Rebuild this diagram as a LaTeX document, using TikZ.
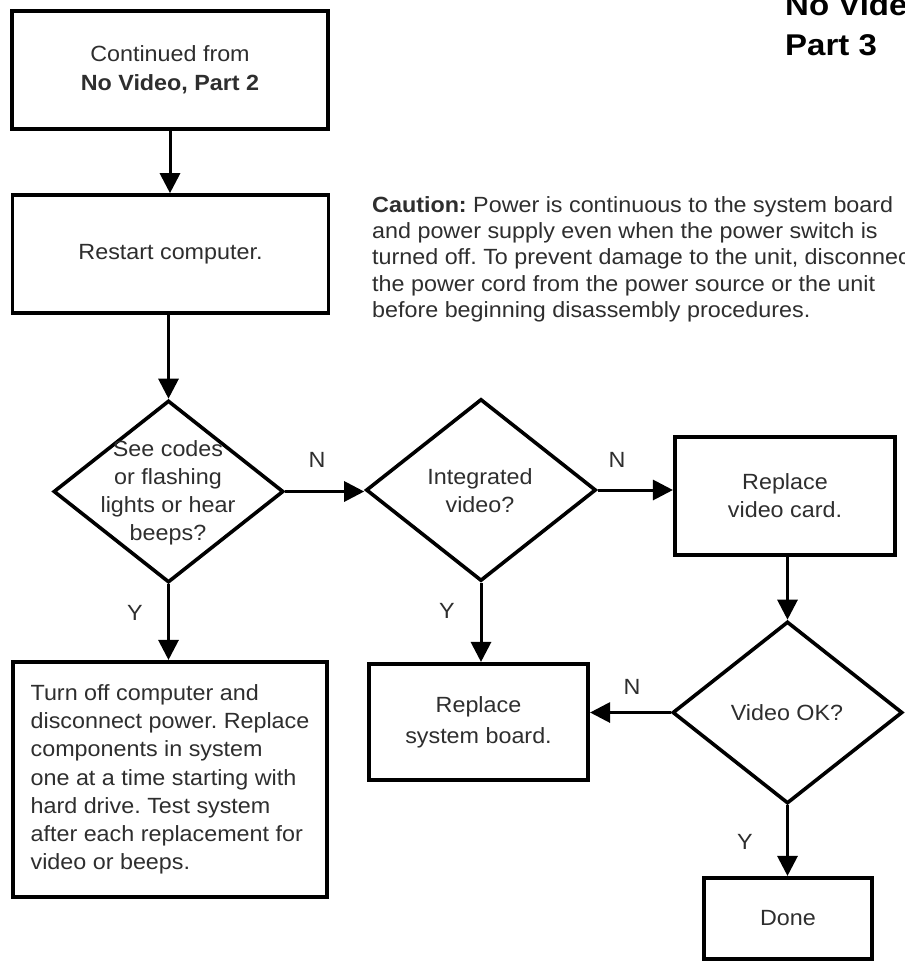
\documentclass[tikz,border=0pt]{standalone}
\usepackage{fontspec}
\setmainfont{Liberation Sans}[FakeStretch=1.06]
\newfontfamily\titlefont{Liberation Sans Bold}[FakeStretch=1.1]
\usetikzlibrary{shapes.geometric,arrows.meta}
\frenchspacing
\tikzset{
  txt/.style={font=\fontsize{22}{28}\selectfont, text=black!82},
  box/.style={txt, draw=black, rectangle, line width=3.6pt, inner sep=0pt, align=center},
  dia/.style={draw=black, diamond, line width=3.6pt, inner sep=0pt, minimum width=230pt, minimum height=182pt},
  arr/.style={line width=3pt, -{Triangle[width=20pt,length=20pt]}},
  lbl/.style={txt, inner sep=0pt}
}
\begin{document}
\begin{tikzpicture}[x=1pt,y=-1pt]
\useasboundingbox (0,0) rectangle (905,962);
\fill[white] (0,0) rectangle (905,962);

% title
\node[anchor=base west, inner sep=0pt, font=\titlefont\fontsize{30}{40}\selectfont] (t1) at (785,15) {No Video};
\node[anchor=base west, inner sep=0pt, font=\titlefont\fontsize{30}{40}\selectfont] (t2) at (785,55) {Part 3};

% boxes
\node[box, minimum width=316.5pt, minimum height=118.5pt, font=\fontsize{22}{29}\selectfont] (b1) at (170,70) {Continued from\\\textbf{No Video, Part 2}};
\node[box, minimum width=316pt, minimum height=118pt] (b2) at (170.5,254) {Restart computer.};
\node[box, minimum width=220.5pt, minimum height=118.5pt] (b3) at (785,496) {Replace\\video card.};
\node[box, minimum width=219.5pt, minimum height=116.5pt, font=\fontsize{22}{31}\selectfont] (b4) at (478.5,722) {Replace\\system board.};
\node[box, minimum width=314.5pt, minimum height=235.5pt, align=left, font=\fontsize{22}{28.2}\selectfont] (b5) at (170,779.5) {Turn off computer and\\disconnect power. Replace\\components in system\\one at a time starting with\\hard drive. Test system\\after each replacement for\\video or beeps.};
\node[box, minimum width=168.5pt, minimum height=81.5pt] (b6) at (788,918.5) {Done};

% diamonds
\node[dia] (d1) at (168.5,491.5) {};
\node[dia] (d2) at (481,490) {};
\node[dia] (d3) at (787.5,712.5) {};
\node[txt, align=center, inner sep=0pt] (d1t) at (168,493) {See codes\\or flashing\\lights or hear\\beeps?};
\node[txt, align=center, inner sep=0pt] (d2t) at (480,491) {Integrated\\video?};
\node[txt, anchor=base, inner sep=0pt] (d3t) at (787,720) {Video OK?};

% caution
\node[txt, anchor=north west, align=left, inner sep=0pt, font=\fontsize{22}{26.3}\selectfont] (caution) at (372,196) {\textbf{Caution:} Power is continuous to the system board\\and power supply even when the power switch is\\turned off. To prevent damage to the unit, disconnect\\the power cord from the power source or the unit\\before beginning disassembly procedures.};

% connectors
\draw[arr] (b1.south) -- (b1.south |- b2.north);
\draw[arr] (d1.north |- b2.south) -- (d1.north);
\draw[arr] (d1.east) -- (d1.east -| d2.west);
\draw[arr] (d2.east) -- (d2.east -| b3.west);
\draw[arr] (d3.north |- b3.south) -- (d3.north);
\draw[arr] (d3.west) -- (d3.west -| b4.east);
\draw[arr] (d2.south) -- (d2.south |- b4.north);
\draw[arr] (d1.south) -- (d1.south |- b5.north);
\draw[arr] (d3.south) -- (d3.south |- b6.north);

% labels
\node[lbl] (n1) at (317,460) {N};
\node[lbl] (n2) at (617,460) {N};
\node[lbl] (y1) at (135,613) {Y};
\node[lbl] (y2) at (447,611) {Y};
\node[lbl] (n3) at (632,687) {N};
\node[lbl] (y3) at (745,842) {Y};
\end{tikzpicture}
\end{document}
